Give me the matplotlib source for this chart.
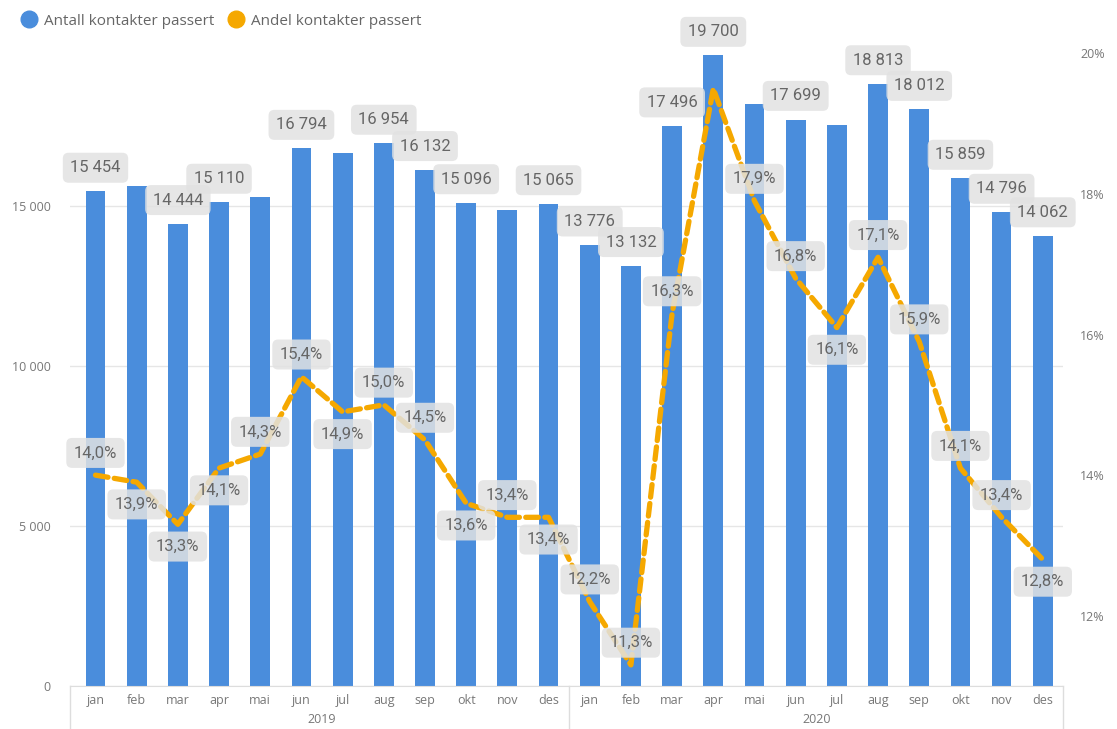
import matplotlib.pyplot as plt
from matplotlib.lines import Line2D

# data
months = ['jan', 'feb', 'mar', 'apr', 'mai', 'jun', 'jul', 'aug', 'sep', 'okt', 'nov', 'des']
years = ['2019', '2020']
antall_2019 = [15454, 15620, 14444, 15110, 15280, 16794, 16660, 16954, 16132, 15096, 14875, 15065]
antall_2020 = [13776, 13132, 17496, 19700, 18190, 17699, 17530, 18813, 18012, 15859, 14796, 14062]
andel_2019 = [14.0, 13.9, 13.3, 14.1, 14.3, 15.4, 14.9, 15.0, 14.5, 13.6, 13.4, 13.4]
andel_2020 = [12.2, 11.3, 16.3, 19.5, 17.9, 16.8, 16.1, 17.1, 15.9, 14.1, 13.4, 12.8]

# which labels Power BI actually shows, and where the % label sits (1 above, -1 below)
show_bar_label = [1, 0, 1, 1, 0, 1, 0, 1, 1, 1, 0, 1,
                  1, 1, 1, 1, 0, 1, 0, 1, 1, 1, 1, 1]
pct_side = [1, -1, -1, -1, 1, 1, -1, 1, 1, -1, 1, -1,
            1, 1, 1, 0, 1, 1, -1, 1, 1, 1, 1, -1]

antall = antall_2019 + antall_2020
andel = andel_2019 + andel_2020
x = list(range(len(antall)))

BLUE = '#4a8ddc'
ORANGE = '#f5a800'
GREY = '#777777'

plt.rcParams['font.family'] = ['Open Sans', 'DejaVu Sans']

fig = plt.figure(figsize=(11.17, 7.29), dpi=100)
ax1 = fig.add_axes([0.063, 0.059, 0.889, 0.886])
ax2 = ax1.twinx()

ax1.bar(x, antall, width=0.48, color=BLUE, zorder=2)
ax1.set_ylim(0, 20180)
ax1.set_xlim(-0.61, 23.5)
ax1.set_yticks([0, 5000, 10000, 15000])
ax1.set_yticklabels(['0', '5 000', '10 000', '15 000'])
ax1.grid(axis='y', color='#e6e6e6', linewidth=1, zorder=0)
ax1.set_axisbelow(True)

ax2.plot(x, andel, color=ORANGE, linewidth=3.8, dashes=(2.4, 1.2),
         solid_capstyle='round', dash_capstyle='round', zorder=3)
ax2.set_ylim(11.0, 20.19)
ax2.set_yticks([12, 14, 16, 18, 20])
ax2.set_yticklabels(['12%', '14%', '16%', '18%', '20%'])

for ax in (ax1, ax2):
    for s in ax.spines.values():
        s.set_visible(False)
    ax.tick_params(length=0, labelsize=9, colors=GREY)
ax1.tick_params(axis='y', pad=14)
ax2.tick_params(axis='y', pad=12)

ax1.spines['bottom'].set_visible(True)
ax1.spines['bottom'].set_color('#dddddd')

ax1.set_xticks(x)
ax1.set_xticklabels(months * 2)
ax1.tick_params(axis='x', pad=6)

# year group labels and separators
for i, yr in enumerate(years):
    ax1.text(5.5 + 12 * i, -0.052, yr, transform=ax1.get_xaxis_transform(),
             ha='center', va='center', fontsize=9, color=GREY)
for xs in (-0.61, 11.5, 23.5):
    ax1.plot([xs, xs], [0, -0.07], transform=ax1.get_xaxis_transform(),
             color='#dddddd', linewidth=1, clip_on=False)

box = dict(boxstyle='round,pad=0.45,rounding_size=0.35', fc='#e2e2e2', ec='none', alpha=0.85)
lab_font = dict(family=['Roboto', 'DejaVu Sans'], fontsize=12, color='#666666')

for i, v in enumerate(antall):
    if show_bar_label[i]:
        ax2.annotate(f'{v:,}'.replace(',', ' '), xy=(i, v), xycoords=ax1.transData,
                     xytext=(0, 17), textcoords='offset points', ha='center', va='center',
                     bbox=box, zorder=5, **lab_font)

for i, p in enumerate(andel):
    if pct_side[i]:
        ax2.annotate(f'{p:.1f}%'.replace('.', ','), xy=(i, p),
                     xytext=(0, 16 * pct_side[i]), textcoords='offset points',
                     ha='center', va='center', bbox=box, zorder=5, **lab_font)

handles = [Line2D([], [], marker='o', linestyle='none', markersize=12, color=BLUE),
           Line2D([], [], marker='o', linestyle='none', markersize=12, color=ORANGE)]
fig.legend(handles, ['Antall kontakter passert', 'Andel kontakter passert'],
           loc='upper left', bbox_to_anchor=(0.0, 1.0), ncol=2, frameon=False,
           handletextpad=0.0, columnspacing=0.4, fontsize=11, labelcolor='#666666')

fig.savefig('out.png', dpi=100)
